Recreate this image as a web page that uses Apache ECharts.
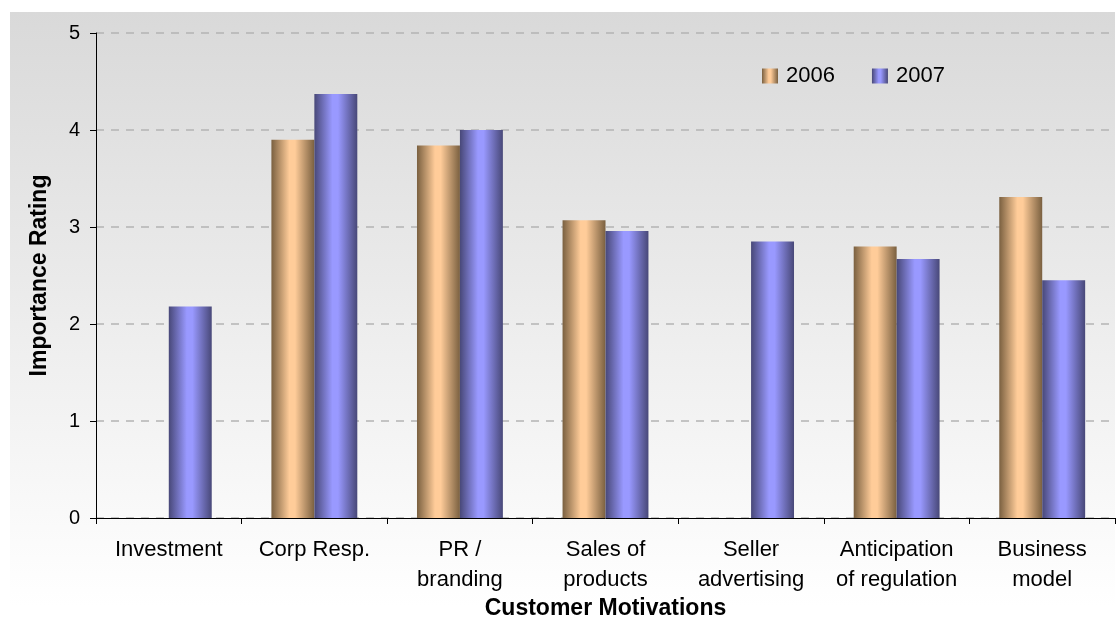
<!DOCTYPE html>
<html>
<head>
<meta charset="utf-8">
<script src="https://cdn.jsdelivr.net/npm/echarts@6/dist/echarts.min.js"></script>
<style>
  html, body { margin: 0; padding: 0; background: #ffffff; }
  #chart { width: 1119px; height: 621px; }
</style>
</head>
<body>
<div id="chart"></div>
<script>
// Customer motivations and their importance ratings per survey year
const categories = ['Investment', 'Corp Resp.', 'PR /\nbranding', 'Sales of\nproducts', 'Seller\nadvertising', 'Anticipation\nof regulation', 'Business\nmodel'];
const seriesNames = ['2006', '2007'];
const values2006 = [null, 3.90, 3.84, 3.07, null, 2.80, 3.31];
const values2007 = [2.18, 4.37, 4.00, 2.96, 2.85, 2.67, 2.45];
const yTicks = [0, 1, 2, 3, 4, 5];

// Cylinder-like shading across each bar
function shade(edge, mid) {
  return new echarts.graphic.LinearGradient(0, 0, 1, 0, [
    { offset: 0, color: edge },
    { offset: 0.42, color: mid },
    { offset: 0.55, color: mid },
    { offset: 1, color: edge }
  ]);
}

const font = 'Liberation Sans, Arial, sans-serif';
const chart = echarts.init(document.getElementById('chart'));

chart.setOption({
  animation: false,
  textStyle: { fontFamily: font },
  graphic: [{
    type: 'rect',
    z: -10,
    shape: { x: 10, y: 12, width: 1105, height: 594 },
    style: {
      fill: new echarts.graphic.LinearGradient(0, 0, 0, 1, [
        { offset: 0, color: '#d9d9d9' },
        { offset: 1, color: '#ffffff' }
      ])
    }
  }],
  grid: { left: 96, right: 4, top: 33, bottom: 103, containLabel: false, outerBoundsMode: 'none' },
  legend: {
    left: 762,
    top: 63,
    padding: 0,
    itemWidth: 16,
    itemHeight: 15,
    itemGap: 37,
    icon: 'rect',
    textStyle: { fontSize: 22, lineHeight: 26, color: '#000', fontFamily: font, padding: [0, 0, 0, 3] },
    data: seriesNames
  },
  xAxis: {
    type: 'category',
    data: categories,
    name: 'Customer Motivations',
    nameLocation: 'middle',
    nameGap: 79,
    nameMoveOverlap: false,
    nameTextStyle: { fontSize: 23, fontWeight: 'bold', color: '#000', fontFamily: font },
    axisLine: { lineStyle: { color: '#000', width: 1 } },
    axisTick: { show: true, length: 6, lineStyle: { color: '#000' } },
    axisLabel: { fontSize: 22, color: '#000', margin: 17, lineHeight: 30, interval: 0, fontFamily: font },
    splitLine: { show: false }
  },
  yAxis: {
    type: 'value',
    min: 0,
    max: 5,
    interval: 1,
    name: 'Importance Rating',
    nameLocation: 'middle',
    nameGap: 45,
    nameMoveOverlap: false,
    nameTextStyle: { fontSize: 23, fontWeight: 'bold', color: '#000', fontFamily: font },
    axisLine: { show: true, lineStyle: { color: '#000', width: 1 } },
    axisTick: { show: true, length: 6, lineStyle: { color: '#000' } },
    axisLabel: {
      fontSize: 20, color: '#000', margin: 16, fontFamily: font,
      formatter: v => (yTicks.includes(v) ? String(v) : '')
    },
    splitLine: { show: true, lineStyle: { color: '#b4b4b4', width: 1.5, type: [8, 7] } }
  },
  series: [
    {
      name: seriesNames[0],
      type: 'bar',
      data: values2006,
      barGap: '0%',
      barCategoryGap: '41%',
      itemStyle: { color: shade('#7a6040', '#ffcc99') }
    },
    {
      name: seriesNames[1],
      type: 'bar',
      data: values2007,
      barGap: '0%',
      barCategoryGap: '41%',
      itemStyle: { color: shade('#484878', '#9999ff') }
    }
  ]
});
</script>
</body>
</html>
